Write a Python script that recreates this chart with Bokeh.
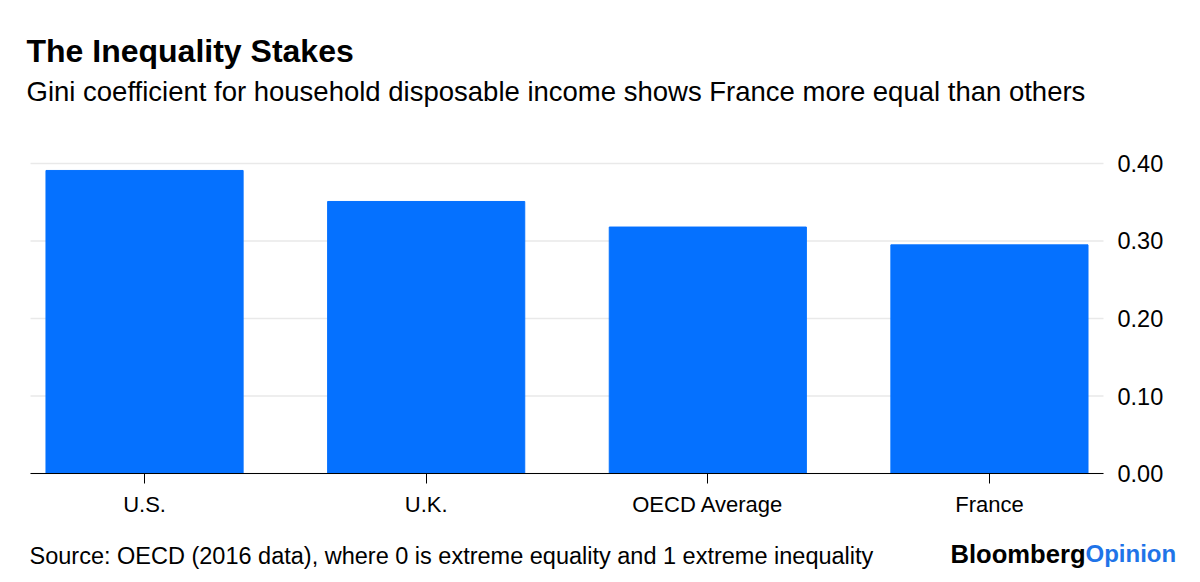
from bokeh.plotting import figure
from bokeh.models import Range1d, FixedTicker, Label
from bokeh.embed import file_html
from bokeh.resources import INLINE

categories = ["U.S.", "U.K.", "OECD Average", "France"]
gini = [0.391, 0.351, 0.318, 0.295]
y_ticks = [0.0, 0.1, 0.2, 0.3, 0.4]
y_tick_labels = ["0.00", "0.10", "0.20", "0.30", "0.40"]

title_text = "The Inequality Stakes"
subtitle_text = "Gini coefficient for household disposable income shows France more equal than others"
source_text = "Source: OECD (2016 data), where 0 is extreme equality and 1 extreme inequality"
logo_left = "Bloomberg"
logo_right = "Opinion"

FONT = "Liberation Sans"
xs = list(range(len(categories)))
plot_left, plot_right = -0.405, len(categories) - 1 + 0.405

# whole canvas is the frame; axes are pinned at fixed locations inside it
p = figure(width=1184, height=574, output_backend="svg", toolbar_location=None,
           x_range=Range1d(-0.5115, 3.6926), y_range=Range1d(-0.1303, 0.6103),
           y_axis_location="right",
           min_border_left=0, min_border_right=0,
           min_border_top=0, min_border_bottom=0)
p.outline_line_color = None
p.background_fill_color = "white"
p.border_fill_color = "white"
p.xgrid.visible = False
p.ygrid.visible = False

# horizontal gridlines behind the bars
p.segment(x0=[plot_left] * len(y_ticks), x1=[plot_right] * len(y_ticks),
          y0=y_ticks, y1=y_ticks, line_color="#e9e9e9", line_width=1.5,
          level="underlay")

p.vbar(x=xs, top=gini, width=0.7, color="#0571FF")

xa = p.xaxis[0]
xa.fixed_location = 0
xa.bounds = (plot_left, plot_right)
xa.ticker = FixedTicker(ticks=xs)
xa.major_label_overrides = {i: c for i, c in zip(xs, categories)}
xa.axis_line_color = "black"
xa.axis_line_width = 1.2
xa.major_tick_line_color = "black"
xa.major_tick_out = 10
xa.major_tick_in = 0
xa.minor_tick_line_color = None
xa.major_label_text_font = FONT
xa.major_label_text_font_size = "22px"
xa.major_label_text_color = "black"
xa.major_label_standoff = 8

ya = p.yaxis[0]
ya.fixed_location = plot_right
ya.ticker = FixedTicker(ticks=y_ticks)
ya.major_label_overrides = {t: l for t, l in zip(y_ticks, y_tick_labels)}
ya.axis_line_color = None
ya.major_tick_line_color = None
ya.major_tick_out = 0
ya.major_tick_in = 0
ya.minor_tick_line_color = None
ya.major_label_text_font = FONT
ya.major_label_text_font_size = "23.5px"
ya.major_label_text_color = "black"
ya.major_label_standoff = 14


def lab(text, x, y, size, bold=False, color="black"):
    p.add_layout(Label(x=x, y=y, x_units="canvas", y_units="canvas", text=text,
                       text_font=FONT, text_font_size=size,
                       text_font_style="bold" if bold else "normal",
                       text_color=color, text_align="left",
                       text_baseline="middle"))


lab(title_text, 26, 50.8, "32px", bold=True)
lab(subtitle_text, 26, 90.5, "27.5px")
lab(source_text, 29, 555, "23.5px")
lab(logo_left, 950, 553, "25.6px", bold=True)
lab(logo_right, 1085, 553, "24px", bold=True, color="#1F74E8")

open("out.html", "w").write(file_html(p, INLINE))
